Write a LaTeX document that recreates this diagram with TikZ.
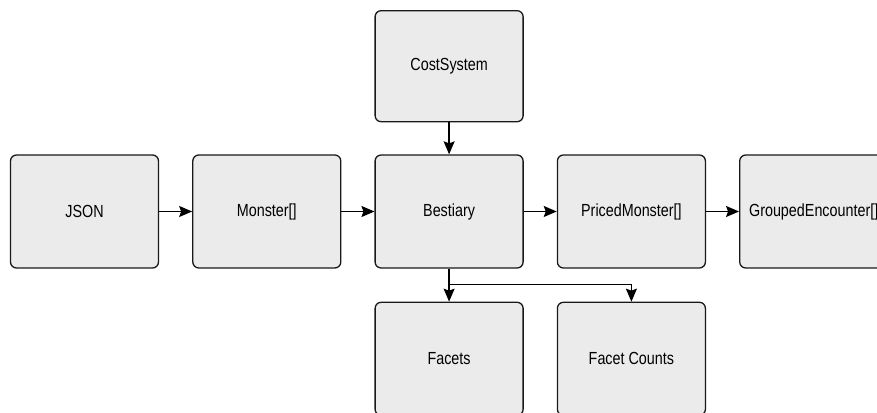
\documentclass[tikz,border=0pt]{standalone}
\usepackage{fontspec}
\setmainfont{Liberation Sans}[FakeStretch=0.82]
\usetikzlibrary{positioning,arrows.meta}

\begin{document}
\begin{tikzpicture}[x=1pt,y=1pt,
		stagebox/.style={rectangle,rounded corners=6pt,draw=black!90,line width=1.3pt,fill=black!8,minimum width=148pt,minimum height=113pt,inner sep=0pt,font=\fontsize{17.5}{20}\selectfont},
		flow/.style={line width=1.3pt,draw=black,-{Stealth[length=13pt,width=11pt,inset=2pt]}}]
		\useasboundingbox (0,0) rectangle (877,412);
		\clip (0,0) rectangle (877,412);

		\node[stagebox] at (84.5,200.5)						(json)		{JSON};
		\node[stagebox,node distance=33pt,right=of json]		(monster)	{Monster[]};
		\node[stagebox,node distance=33pt,right=of monster]	(bestiary)	{Bestiary};
		\node[stagebox,node distance=33pt,right=of bestiary]	(priced)	{PricedMonster[]};
		\node[stagebox,node distance=33pt,right=of priced]		(grouped)	{GroupedEncounter[]};

		\node[stagebox,node distance=32pt,above=of bestiary,minimum height=111pt]	(cost)		{CostSystem};
		\node[stagebox,node distance=33pt,below=of bestiary]	(facets)	{Facets};
		\node[stagebox,node distance=33pt,right=of facets]		(counts)	{Facet Counts};

		\coordinate[below=16pt of bestiary.south] (split);

		\draw[flow] (json) -- (monster);
		\draw[flow] (monster) -- (bestiary);
		\draw[flow] (bestiary) -- (priced);
		\draw[flow] (priced) -- (grouped);
		\draw[flow] (cost) -- (bestiary);
		\draw[flow] (bestiary) -- (facets);
		\draw[flow] (split) -| (counts.north);
	\end{tikzpicture}
\end{document}
